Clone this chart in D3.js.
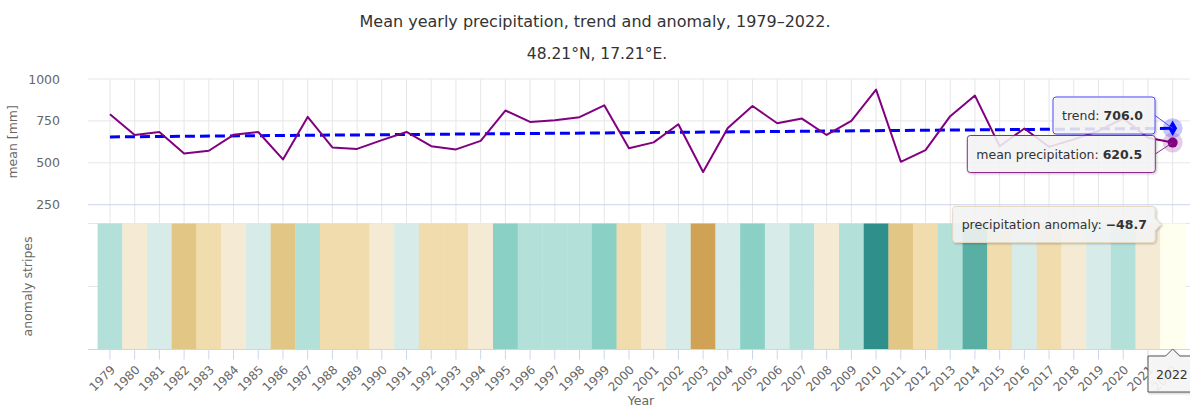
<!DOCTYPE html>
<html>
<head>
<meta charset="utf-8">
<script src="https://cdn.jsdelivr.net/npm/d3@7"></script>
<style>
  body { margin: 0; background: #fff; }
  svg { font-family: "DejaVu Sans", sans-serif; display: block; }
</style>
</head>
<body>
<svg id="chart" width="1190" height="407"></svg>
<script>
// years on the x axis
var years = [1979, 1980, 1981, 1982, 1983, 1984, 1985, 1986, 1987, 1988, 1989,
  1990, 1991, 1992, 1993, 1994, 1995, 1996, 1997, 1998, 1999, 2000, 2001, 2002,
  2003, 2004, 2005, 2006, 2007, 2008, 2009, 2010, 2011, 2012, 2013, 2014, 2015,
  2016, 2017, 2018, 2019, 2020, 2021, 2022];

// mean yearly precipitation [mm]
var meanPrecip = [790, 666, 684, 556, 572, 667, 684, 520, 774, 592, 583,
  635, 684, 599, 580, 631, 812, 744, 754, 772, 843, 587, 622, 730,
  445, 708, 839, 736, 764, 666, 750, 937, 506, 576, 778, 901, 599,
  705, 595, 640, 690, 765, 650, 620.5];

// precipitation anomaly [mm]
var anomaly = [120.8, -3.2, 14.8, -113.2, -97.2, -2.2, 14.8, -149.2, 104.8, -77.2, -86.2,
  -34.2, 14.8, -70.2, -89.2, -38.2, 142.8, 74.8, 84.8, 102.8, 173.8, -82.2, -47.2, 60.8,
  -224.2, 38.8, 169.8, 66.8, 94.8, -3.2, 80.8, 267.8, -163.2, -93.2, 108.8, 231.8, -70.2,
  35.8, -74.2, -29.2, 20.8, 95.8, -19.2, -48.7];

// linear trend, end points
var trendYears = [1979, 2022];
var trendValues = [654.5, 706.0];

var yTicks = [250, 500, 750, 1000];
var anomalyBreaks = [-200, -110, -60, 0, 70, 130, 200, 250];
var anomalyColors = ["#d0a255", "#e2c686", "#f0dcad", "#f5ebd5", "#d7ece9",
  "#b4e0da", "#8ad0c4", "#5aafa5", "#2f8f8a"];

var hoverYear = 2022;

var svg = d3.select("#chart");

var plotLeft = 88, plotRight = 1190;
var topY0 = 79, topY1 = 204.7;      // upper pane (mean)
var botY0 = 223.5, botY1 = 349.5;   // lower pane (stripes)

var x = d3.scaleBand().domain(years).range([97.6, 1185]).padding(0);
var cx = function (yr) { return x(yr) + x.bandwidth() / 2; };
var y = d3.scaleLinear().domain([250, 1000]).range([topY1, topY0]);
var stripeColor = d3.scaleThreshold().domain(anomalyBreaks).range(anomalyColors);

// titles
svg.append("text").attr("x", 595).attr("y", 27).attr("text-anchor", "middle")
  .style("font-size", "16px").attr("fill", "#333")
  .text("Mean yearly precipitation, trend and anomaly, 1979\u20132022.");
svg.append("text").attr("x", 597).attr("y", 58.5).attr("text-anchor", "middle")
  .style("font-size", "15.5px").attr("fill", "#333")
  .text("48.21\u00b0N, 17.21\u00b0E.");

// grid of the upper pane
svg.append("g").selectAll("line").data(yTicks.filter(function (t) { return t > 250; }))
  .enter().append("line")
  .attr("x1", plotLeft).attr("x2", plotRight)
  .attr("y1", function (d) { return y(d); }).attr("y2", function (d) { return y(d); })
  .attr("stroke", "#e6e6e6");

// vertical grid lines
svg.append("g").selectAll("line").data(years).enter().append("line")
  .attr("x1", function (d) { return cx(d); }).attr("x2", function (d) { return cx(d); })
  .attr("y1", topY0).attr("y2", botY0)
  .attr("stroke", "#e6e6e6");

// lower pane grid
svg.append("g").selectAll("line").data([botY0, (botY0 + botY1) / 2]).enter().append("line")
  .attr("x1", plotLeft).attr("x2", plotRight)
  .attr("y1", function (d) { return d; }).attr("y2", function (d) { return d; })
  .attr("stroke", "#e6e6e6");

// axis lines
svg.append("line").attr("x1", plotLeft).attr("x2", plotRight)
  .attr("y1", y(250)).attr("y2", y(250)).attr("stroke", "#ccd6eb");

// y axis labels
svg.append("g").selectAll("text").data(yTicks).enter().append("text")
  .attr("x", 60).attr("y", function (d) { return y(d) + 4.5; })
  .attr("text-anchor", "end").style("font-size", "12.5px").attr("fill", "#666")
  .text(function (d) { return d; });

svg.append("text").attr("transform", "translate(17," + ((topY0 + topY1) / 2) + ") rotate(-90)")
  .attr("text-anchor", "middle").style("font-size", "12.5px").attr("fill", "#666")
  .text("mean [mm]");
svg.append("text").attr("transform", "translate(32," + ((botY0 + botY1) / 2) + ") rotate(-90)")
  .attr("text-anchor", "middle").style("font-size", "12.5px").attr("fill", "#666")
  .text("anomaly stripes");

// anomaly stripes
svg.append("g").selectAll("rect").data(years).enter().append("rect")
  .attr("x", function (d) { return x(d); })
  .attr("width", x.bandwidth() + 0.3)
  .attr("y", botY0).attr("height", botY1 - botY0)
  .attr("fill", function (d, i) {
    var c = d3.rgb(stripeColor(anomaly[i]));
    if (d === hoverYear) { c = d3.rgb(c.r + 25.5, c.g + 25.5, c.b + 25.5); }
    return c.formatHex();
  });

svg.append("line").attr("x1", plotLeft).attr("x2", plotRight)
  .attr("y1", botY1).attr("y2", botY1).attr("stroke", "#ccd6eb");

// x axis ticks and labels
svg.append("g").selectAll("line").data(years).enter().append("line")
  .attr("x1", function (d) { return cx(d); }).attr("x2", function (d) { return cx(d); })
  .attr("y1", botY1).attr("y2", botY1 + 10).attr("stroke", "#ccd6eb");
svg.append("g").selectAll("text").data(years).enter().append("text")
  .attr("transform", function (d) { return "translate(" + (cx(d) + 6) + "," + (botY1 + 21) + ") rotate(-45)"; })
  .attr("text-anchor", "end").style("font-size", "12px").attr("fill", "#666")
  .text(function (d) { return d; });
svg.append("text").attr("x", 641).attr("y", 405).attr("text-anchor", "middle")
  .style("font-size", "12.5px").attr("fill", "#666").text("Year");

// trend line
var trendPts = trendYears.map(function (yr, i) { return [cx(yr), y(trendValues[i])]; });
svg.append("path").attr("d", d3.line()(trendPts))
  .attr("fill", "none").attr("stroke", "#0000ff").attr("stroke-width", 3)
  .attr("stroke-dasharray", "10,5");

// mean line
var line = d3.line().x(function (d, i) { return cx(years[i]); }).y(function (d) { return y(d); });
svg.append("path").attr("d", line(meanPrecip))
  .attr("fill", "none").attr("stroke", "#800080").attr("stroke-width", 2)
  .attr("stroke-linejoin", "round");

// hover markers
var hx = cx(hoverYear);
var hi = years.indexOf(hoverYear);
var trendHover = trendValues[1];
svg.append("circle").attr("cx", hx).attr("cy", y(trendHover)).attr("r", 10)
  .attr("fill", "#0000ff").attr("opacity", 0.22);
svg.append("circle").attr("cx", hx).attr("cy", y(meanPrecip[hi])).attr("r", 10)
  .attr("fill", "#800080").attr("opacity", 0.2);
svg.append("path").attr("d", d3.symbol().type(d3.symbolDiamond).size(70)())
  .attr("transform", "translate(" + hx + "," + y(trendHover) + ")")
  .attr("fill", "#0000ff");
svg.append("circle").attr("cx", hx).attr("cy", y(meanPrecip[hi])).attr("r", 5)
  .attr("fill", "#800080");

// tooltips
var defs = svg.append("defs");
var f = defs.append("filter").attr("id", "shadow").attr("x", "-10%").attr("y", "-20%")
  .attr("width", "130%").attr("height", "160%");
f.append("feDropShadow").attr("dx", 1).attr("dy", 1).attr("stdDeviation", 1.2)
  .attr("flood-color", "#000").attr("flood-opacity", 0.25);

function tip(bx, by, bw, bh, stroke, label, value, px, py) {
  var g = svg.append("g");
  if (px !== undefined) {
    g.append("line").attr("x1", bx + bw).attr("y1", by + bh / 2)
      .attr("x2", px).attr("y2", py).attr("stroke", stroke).attr("stroke-width", 1);
  }
  g.append("rect").attr("x", bx).attr("y", by).attr("width", bw).attr("height", bh)
    .attr("rx", 3).attr("fill", "rgba(247,247,247,0.85)").attr("stroke", stroke)
    .attr("filter", "url(#shadow)");
  var t = g.append("text").attr("x", bx + 9).attr("y", by + bh / 2 + 4.5)
    .style("font-size", "12.5px").attr("fill", "#333");
  t.append("tspan").text(label);
  t.append("tspan").attr("font-weight", "bold").text(value);
}

tip(1053, 97, 102, 37, "#4d4dff", "trend: ", trendHover.toFixed(1), hx, y(trendHover));
tip(967.3, 135.5, 188, 37, "#8a2c8a", "mean precipitation: ", meanPrecip[hi].toFixed(1), hx, y(meanPrecip[hi]));

// anomaly tooltip with arrow to the right
var ag = svg.append("g");
var ax0 = 952.7, ay0 = 206.5, aw = 202.5, ah = 36;
ag.append("path")
  .attr("d", "M" + (ax0 + 3) + "," + ay0 + "H" + (ax0 + aw - 3) + "Q" + (ax0 + aw) + "," + ay0 + " " + (ax0 + aw) + "," + (ay0 + 3) +
    "V" + (ay0 + ah / 2 - 6) + "L" + (ax0 + aw + 6) + "," + (ay0 + ah / 2) + "L" + (ax0 + aw) + "," + (ay0 + ah / 2 + 6) +
    "V" + (ay0 + ah - 3) + "Q" + (ax0 + aw) + "," + (ay0 + ah) + " " + (ax0 + aw - 3) + "," + (ay0 + ah) +
    "H" + (ax0 + 3) + "Q" + ax0 + "," + (ay0 + ah) + " " + ax0 + "," + (ay0 + ah - 3) +
    "V" + (ay0 + 3) + "Q" + ax0 + "," + ay0 + " " + (ax0 + 3) + "," + ay0 + "Z")
  .attr("fill", "rgba(247,247,247,0.85)").attr("stroke", "#e3d9c0").attr("filter", "url(#shadow)");
var at = ag.append("text").attr("x", ax0 + 9).attr("y", ay0 + ah / 2 + 4.5)
  .style("font-size", "12.5px").attr("fill", "#333");
at.append("tspan").text("precipitation anomaly: ");
at.append("tspan").attr("font-weight", "bold").text("\u2212" + Math.abs(anomaly[hi]).toFixed(1));

// x axis crosshair label
var lg = svg.append("g");
var lx0 = 1148, ly0 = 356, lw = 50, lh = 36;
lg.append("path")
  .attr("d", "M" + lx0 + "," + ly0 + "H" + (hx - 7) + "L" + hx + "," + (ly0 - 7) + "L" + (hx + 7) + "," + ly0 +
    "H" + (lx0 + lw) + "V" + (ly0 + lh) + "H" + lx0 + "Z")
  .attr("fill", "rgba(247,247,247,0.9)").attr("stroke", "#555").attr("filter", "url(#shadow)");
lg.append("text").attr("x", lx0 + 8).attr("y", ly0 + lh / 2 + 4.5)
  .style("font-size", "12.5px").attr("fill", "#333").text(hoverYear);
</script>
</body>
</html>
